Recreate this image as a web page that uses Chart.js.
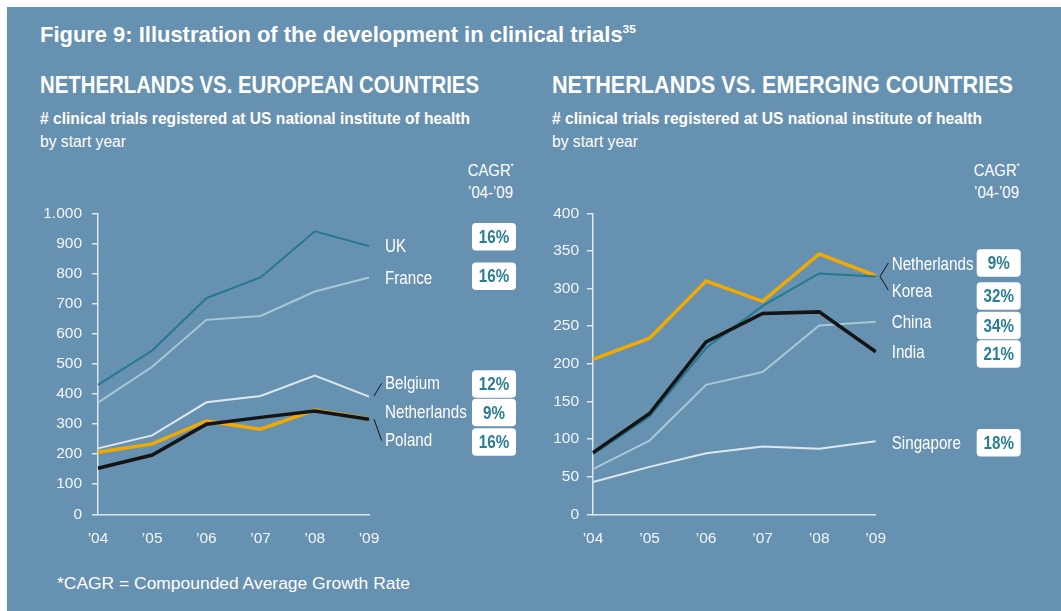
<!DOCTYPE html>
<html>
<head>
<meta charset="utf-8">
<script src="https://cdn.jsdelivr.net/npm/chart.js@4.4.1/dist/chart.umd.min.js"></script>
<style>
  html, body { margin: 0; padding: 0; background: #fff; }
  body { width: 1061px; height: 611px; position: relative; overflow: hidden; font-family: "Liberation Sans", Arial, sans-serif; color: #fff; }
  #panel { position: absolute; left: 7px; top: 7px; right: 0; bottom: 0; background: #6791b0; }
  .t { position: absolute; white-space: nowrap; line-height: 1; display: inline-block; transform-origin: 0 0; }
  .t.r { transform-origin: 100% 0; }
  sup { font-size: 55%; line-height: 0; vertical-align: 0.75em; }
  canvas { position: absolute; }
</style>
</head>
<body>
<div id="panel"></div>

<div class="t" data-w="596" style="left:40px;top:24.5px;font-size:21.5px;font-weight:bold">Figure 9: Illustration of the development in clinical trials<sup>35</sup></div>

<div class="t" data-w="439" style="left:40px;top:74.2px;font-size:23.7px;font-weight:bold">NETHERLANDS VS. EUROPEAN COUNTRIES</div>
<div class="t" data-w="430" style="left:40px;top:110.8px;font-size:16px;font-weight:bold"># clinical trials registered at US national institute of health</div>
<div class="t" data-w="86" style="left:40px;top:133.8px;font-size:16px">by start year</div>
<div class="t r" data-w="46" style="right:547px;top:162px;font-size:17px">CAGR<sup>*</sup></div>
<div class="t r" data-w="45" style="right:548px;top:183.5px;font-size:17px">’04-’09</div>

<div class="t" data-w="461" style="left:551.7px;top:74.2px;font-size:23.7px;font-weight:bold">NETHERLANDS VS. EMERGING COUNTRIES</div>
<div class="t" data-w="430" style="left:551.7px;top:110.8px;font-size:16px;font-weight:bold"># clinical trials registered at US national institute of health</div>
<div class="t" data-w="86" style="left:551.7px;top:133.8px;font-size:16px">by start year</div>
<div class="t r" data-w="46" style="right:41px;top:162px;font-size:17px">CAGR<sup>*</sup></div>
<div class="t r" data-w="45" style="right:42px;top:183.5px;font-size:17px">’04-’09</div>

<div class="t" data-w="353" style="left:57px;top:574.9px;font-size:17px">*CAGR = Compounded Average Growth Rate</div>

<canvas id="left" width="500" height="360" style="left:30px;top:200px"></canvas>
<canvas id="right" width="521" height="360" style="left:540px;top:200px"></canvas>

<script>
// ── Data ──────────────────────────────────────────────────────────────────
const years = ['’04', '’05', '’06', '’07', '’08', '’09']

const uk          = [430, 544, 718, 787, 940, 891]
const france      = [371, 490, 646, 659, 740, 787]
const belgium     = [219, 262, 372, 393, 461, 391]
const netherlands = [206, 234, 310, 283, 346, 317]
const poland      = [153, 197, 299, 322, 343, 316]

const korea     = [80, 130, 221, 277, 320, 316]
const india     = [82, 134, 229, 267, 269, 216]
const china     = [60, 98, 172, 189, 251, 256]
const singapore = [43, 63, 81, 90, 87, 97]

const leftTicks  = ['0', '100', '200', '300', '400', '500', '600', '700', '800', '900', '1.000']
const rightTicks = ['0', '50', '100', '150', '200', '250', '300', '350', '400']

const leftNames  = ['UK', 'France', 'Belgium', 'Netherlands', 'Poland']
const leftCagr   = ['16%', '16%', '12%', '9%', '16%']
const rightNames = ['Netherlands', 'Korea', 'China', 'India', 'Singapore']
const rightCagr  = ['9%', '32%', '34%', '21%', '18%']

// ── Label layout (in axis value units) ────────────────────────────────────
const leftNameAt  = [889, 783, 432, 337, 243]
const leftBoxAt   = [922, 791, 433, 338, 240]
const rightNameAt = [332, 296, 254, 215, 94]
const rightBoxAt  = [334, 290, 251, 213, 95]

// ── Styles ────────────────────────────────────────────────────────────────
const teal   = '#24788f'
const light  = '#a8c8d5'
const pale   = '#dde8ee'
const orange = '#f2a900'
const black  = '#141414'
const axisCol = '#dce6ee'
const tickCol = '#f2f6f9'
const sans = '"Liberation Sans", Arial, sans-serif'

// stretch/squeeze headings to the reference widths
document.querySelectorAll('.t[data-w]').forEach(el => {
  const w = el.getBoundingClientRect().width
  el.style.transform = 'scaleX(' + (Number(el.dataset.w) / w) + ')'
})

// narrow text = regular face squeezed horizontally
function narrowText(ctx, text, x, y, align) {
  ctx.save()
  ctx.translate(x, y)
  ctx.scale(0.82, 1)
  ctx.textAlign = align
  ctx.fillText(text, 0, 0)
  ctx.restore()
}

const sideLabels = {
  id: 'sideLabels',
  afterDraw(chart, args, o) {
    const { ctx, chartArea: a, scales: { y } } = chart
    ctx.save()
    ctx.strokeStyle = '#111'
    ctx.lineWidth = 1
    o.links.forEach(l => {
      ctx.beginPath()
      ctx.moveTo(a.right + l[0], y.getPixelForValue(l[1]))
      ctx.lineTo(a.right + l[2], y.getPixelForValue(l[3]))
      ctx.stroke()
    })
    ctx.textBaseline = 'middle'
    ctx.font = '18.5px ' + sans
    ctx.fillStyle = '#fff'
    o.names.forEach((n, i) => narrowText(ctx, n, a.right + o.textX, y.getPixelForValue(o.nameAt[i]), 'left'))
    o.cagr.forEach((c, i) => {
      const cy = y.getPixelForValue(o.boxAt[i])
      const bx = a.right + o.boxX
      ctx.fillStyle = '#fff'
      ctx.beginPath()
      ctx.roundRect(bx, cy - 13.75, 44, 27.5, 4)
      ctx.fill()
      ctx.fillStyle = '#2a7d93'
      ctx.font = 'bold 18.5px ' + sans
      narrowText(ctx, c, bx + 22, cy + 1, 'center')
    })
    ctx.restore()
  }
}

function line(label, data, color, width) {
  return { label, data, borderColor: color, borderWidth: width, pointRadius: 0, tension: 0, fill: false }
}

// nudge layout padding until the plot area sits where the reference has it
function fitArea(chart, t) {
  const p = { top: 13, right: 0, bottom: 0, left: 0 }
  for (let k = 0; k < 3; k++) {
    const a = chart.chartArea
    p.top += t.top - a.top
    p.right += a.right - t.right
    p.bottom += a.bottom - t.bottom
    chart.options.layout.padding = { ...p }
    chart.update()
  }
}

function makeChart(id, sets, ticks, max, step, yWidth, tickPad, area, side) {
  const tickFont = { family: sans, size: 15.5 }
  const chart = new Chart(document.getElementById(id), {
    type: 'line',
    data: { labels: years, datasets: sets },
    options: {
      responsive: false,
      animation: false,
      devicePixelRatio: 1,
      layout: { padding: { top: 13, right: 0, left: 0, bottom: 0 } },
      plugins: { legend: { display: false }, tooltip: { enabled: false }, sideLabels: side },
      scales: {
        x: {
          offset: false,
          grid: { display: false, drawTicks: false },
          border: { color: axisCol, width: 1.5 },
          ticks: { color: tickCol, font: tickFont, padding: 15, maxRotation: 0, autoSkip: false },
          afterFit: s => { s.height = 46 }
        },
        y: {
          min: 0, max,
          ticks: { stepSize: step, color: tickCol, font: tickFont, padding: tickPad, callback: (v, i) => ticks[i] },
          grid: { drawOnChartArea: false, drawTicks: true, tickLength: 6, color: axisCol, lineWidth: 1.5 },
          border: { color: axisCol, width: 1.5 },
          afterFit: s => { s.width = yWidth; s.paddingTop = 0; s.paddingBottom = 0 }
        }
      }
    },
    plugins: [sideLabels]
  })
  fitArea(chart, area)
  return chart
}

// first dataset is drawn on top
makeChart('left', [
  line('Poland', poland, black, 3.5),
  line('Netherlands', netherlands, orange, 3.5),
  line('UK', uk, teal, 2),
  line('France', france, light, 2),
  line('Belgium', belgium, pale, 2)
], leftTicks, 1000, 100, 68, 10, { top: 13.3, right: 339, bottom: 314.3 }, {
  names: leftNames, cagr: leftCagr, nameAt: leftNameAt, boxAt: leftBoxAt,
  textX: 16, boxX: 103,
  links: [[5, 393, 12.7, 435], [5, 316, 12.7, 245]]
})

makeChart('right', [
  line('India', india, black, 3.5),
  line('Korea', korea, teal, 2),
  line('Netherlands', netherlands, orange, 3.5),
  line('China', china, light, 2),
  line('Singapore', singapore, pale, 2)
], rightTicks, 400, 50, 53, 8, { top: 13.3, right: 335.7, bottom: 314.3 }, {
  names: rightNames, cagr: rightCagr, nameAt: rightNameAt, boxAt: rightBoxAt,
  textX: 16, boxX: 101,
  links: [[4.3, 316, 12.6, 334], [4.3, 316, 12.6, 298]]
})
</script>
</body>
</html>
